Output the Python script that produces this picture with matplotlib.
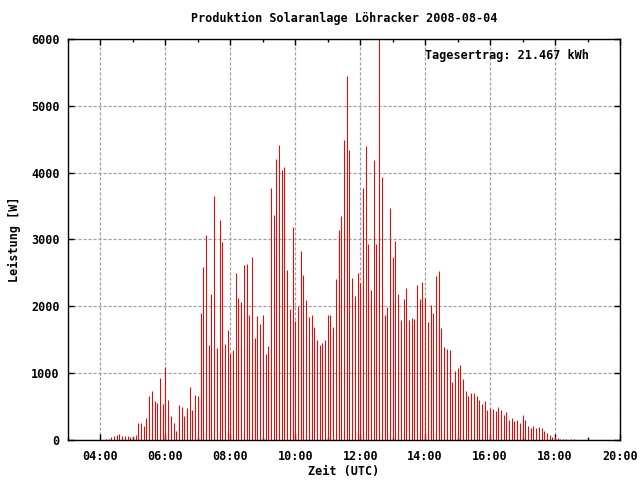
import numpy as np
import pandas as pd
import matplotlib
matplotlib.use("Agg")
import matplotlib.pyplot as plt
from matplotlib.ticker import MultipleLocator, FuncFormatter

# Leistung [W] alle 5 Minuten ab 04:10 UTC
start = "2008-08-04 04:10"
leistung = [
    # 04:10 - 07:00
    15, 20, 45, 60, 75, 90, 60, 60, 60, 45, 60, 75, 254, 254, 209, 328, 657, 731,
    582, 552, 925, 537, 1090, 597, 358, 254, 134, 522, 492, 358, 478, 791, 448, 672, 657,
    # 07:05 - 09:10
    1900, 2587, 3064, 1422, 2184, 3646, 1378, 3288, 2960, 1437, 1646, 1293, 1348,
    2497, 2124, 2064, 2616, 2631, 1870, 2736, 1527, 1855, 1736, 1870, 1288, 1408,
    # 09:15 - 11:40
    3766, 3363, 4198, 4407, 4034, 4079, 2542, 1960, 3184, 1781, 2004, 2825, 2467,
    2094, 1840, 1870, 1691, 1497, 1422, 1452, 1497, 1870, 1870, 1691, 2407, 3139,
    3348, 4482, 5440, 4333,
    # 11:45 - 13:55
    2422, 2154, 2497, 2348, 3766, 4393, 2930, 2243, 4184, 2930, 6500, 3930, 1870,
    1990, 3467, 2736, 2975, 2184, 1796, 2109, 2273, 1796, 1825, 1810, 2318, 2109, 2363,
    # 14:00 - 16:35
    2124, 1766, 2019, 1900, 2452, 2527, 1676, 1393, 1363, 1348, 870, 1034, 1079,
    1124, 915, 736, 661, 706, 706, 661, 601, 542, 587, 452, 482, 467, 437, 497,
    452, 378, 422, 303,
    # 16:40 - 18:35
    333, 288, 303, 258, 378, 303, 213, 184, 213, 184, 199, 184, 139, 109, 79, 49,
    64, 34, 19, 19, 19, 0, 19, 19,
]
tagesertrag = "21.467"

zeit = pd.date_range(start, periods=len(leistung), freq="5min")
stunden = zeit.hour + zeit.minute / 60.0

font = {"family": "DejaVu Sans Mono", "weight": "bold", "size": 8.5}
plt.rcParams["font.family"] = "DejaVu Sans Mono"
plt.rcParams["font.weight"] = "bold"
plt.rcParams["font.size"] = 8.5

fig = plt.figure(figsize=(6.4, 4.8), dpi=100)
ax = fig.add_axes([68 / 640, 40 / 480, 552 / 640, 401 / 480])

ax.vlines(stunden, 0, leistung, color="#ff0000", linewidth=0.75)

ax.set_xlim(3, 20)
ax.set_ylim(0, 6000)
ax.xaxis.set_major_locator(MultipleLocator(2))
ax.xaxis.set_minor_locator(MultipleLocator(1))
ax.yaxis.set_major_locator(MultipleLocator(1000))
ax.xaxis.set_major_formatter(FuncFormatter(lambda v, p: "%02d:00" % int(v)))

ax.tick_params(which="both", direction="in", top=True, right=True, color="black")
ax.tick_params(which="major", length=4, width=1)
ax.tick_params(which="minor", length=2, width=1)
ax.tick_params(axis="x", pad=7)
ax.tick_params(axis="y", pad=6)

ax.grid(True, which="major", color="#a0a0a0", linestyle=(0, (2.5, 1.5)), linewidth=0.9)
ax.set_axisbelow(True)
for s in ax.spines.values():
    s.set_linewidth(1.0)

ax.set_title("Produktion Solaranlage Löhracker 2008-08-04", pad=12.5, **font)
ax.set_xlabel("Zeit (UTC)", labelpad=2, **font)
ax.set_ylabel("Leistung [W]", labelpad=7, **font)
ax.text(0.647, 0.958, "Tagesertrag: %s kWh" % tagesertrag, transform=ax.transAxes,
        ha="left", va="center", **font)

fig.savefig("out.png", dpi=100)
